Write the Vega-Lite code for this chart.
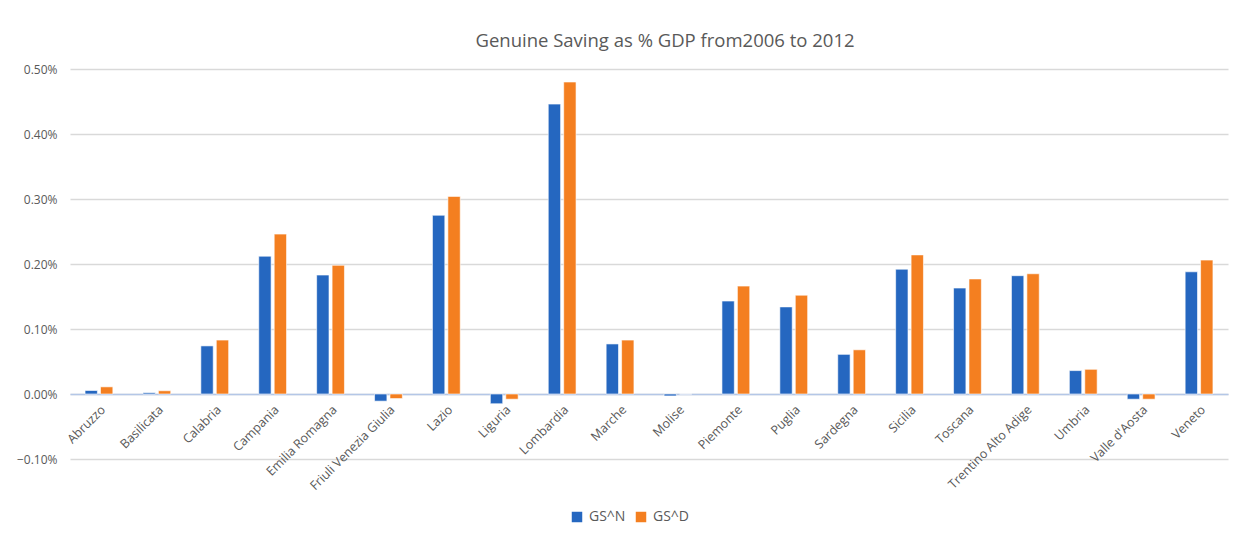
{
  "$schema": "https://vega.github.io/schema/vega-lite/v6.json",
  "autosize": {"type": "none"},
  "width": 1158,
  "height": 390,
  "padding": {"left": 70, "top": 69, "right": 5, "bottom": 78},
  "background": "white",
  "title": {
    "text": "Genuine Saving as % GDP from2006 to 2012",
    "fontSize": 18.5,
    "font": "Open Sans",
    "fontWeight": "normal",
    "color": "#595959",
    "anchor": "middle",
    "offset": 13,
    "dx": 16
  },
  "data": {
    "values": [
      {"region": "Abruzzo", "series": "GS^N", "value": 0.000054},
      {"region": "Abruzzo", "series": "GS^D", "value": 0.00011},
      {"region": "Basilicata", "series": "GS^N", "value": 0.00002},
      {"region": "Basilicata", "series": "GS^D", "value": 0.00005},
      {"region": "Calabria", "series": "GS^N", "value": 0.00074},
      {"region": "Calabria", "series": "GS^D", "value": 0.00083},
      {"region": "Campania", "series": "GS^N", "value": 0.00212},
      {"region": "Campania", "series": "GS^D", "value": 0.00246},
      {"region": "Emilia Romagna", "series": "GS^N", "value": 0.00183},
      {"region": "Emilia Romagna", "series": "GS^D", "value": 0.00198},
      {"region": "Friuli Venezia Giulia", "series": "GS^N", "value": -0.00011},
      {"region": "Friuli Venezia Giulia", "series": "GS^D", "value": -0.00007},
      {"region": "Lazio", "series": "GS^N", "value": 0.00275},
      {"region": "Lazio", "series": "GS^D", "value": 0.00304},
      {"region": "Liguria", "series": "GS^N", "value": -0.00015},
      {"region": "Liguria", "series": "GS^D", "value": -0.00008},
      {"region": "Lombardia", "series": "GS^N", "value": 0.00446},
      {"region": "Lombardia", "series": "GS^D", "value": 0.0048},
      {"region": "Marche", "series": "GS^N", "value": 0.00077},
      {"region": "Marche", "series": "GS^D", "value": 0.00083},
      {"region": "Molise", "series": "GS^N", "value": -0.00003},
      {"region": "Molise", "series": "GS^D", "value": 0},
      {"region": "Piemonte", "series": "GS^N", "value": 0.00143},
      {"region": "Piemonte", "series": "GS^D", "value": 0.00166},
      {"region": "Puglia", "series": "GS^N", "value": 0.00134},
      {"region": "Puglia", "series": "GS^D", "value": 0.00152},
      {"region": "Sardegna", "series": "GS^N", "value": 0.00061},
      {"region": "Sardegna", "series": "GS^D", "value": 0.00068},
      {"region": "Sicilia", "series": "GS^N", "value": 0.00192},
      {"region": "Sicilia", "series": "GS^D", "value": 0.00214},
      {"region": "Toscana", "series": "GS^N", "value": 0.00163},
      {"region": "Toscana", "series": "GS^D", "value": 0.00177},
      {"region": "Trentino Alto Adige", "series": "GS^N", "value": 0.00182},
      {"region": "Trentino Alto Adige", "series": "GS^D", "value": 0.00185},
      {"region": "Umbria", "series": "GS^N", "value": 0.00036},
      {"region": "Umbria", "series": "GS^D", "value": 0.00038},
      {"region": "Valle d'Aosta", "series": "GS^N", "value": -0.00008},
      {"region": "Valle d'Aosta", "series": "GS^D", "value": -0.00008},
      {"region": "Veneto", "series": "GS^N", "value": 0.00188},
      {"region": "Veneto", "series": "GS^D", "value": 0.00206}
    ]
  },
  "mark": {"type": "bar", "stroke": "white", "strokeWidth": 0.6},
  "encoding": {
    "x": {
      "field": "region",
      "type": "nominal",
      "sort": null,
      "scale": {"paddingInner": 0.52, "paddingOuter": 0.26},
      "axis": {
        "title": null,
        "offset": -65,
        "labelAngle": -45,
        "labelFont": "Open Sans",
        "labelFontSize": 12.5,
        "labelColor": "#595959",
        "labelPadding": 9,
        "ticks": false,
        "domainColor": "#b4c7e7",
        "domainWidth": 1.5,
        "grid": false
      }
    },
    "xOffset": {
      "field": "series",
      "type": "nominal",
      "sort": ["GS^N", "GS^D"],
      "scale": {"paddingInner": 0.2}
    },
    "y": {
      "field": "value",
      "type": "quantitative",
      "scale": {"domain": [-0.001, 0.005], "nice": false, "zero": true},
      "axis": {
        "title": null,
        "format": ".2%",
        "values": [-0.001, 0, 0.001, 0.002, 0.003, 0.004, 0.005],
        "domain": false,
        "ticks": false,
        "labelPadding": 13,
        "labelFont": "Open Sans",
        "labelFontSize": 12,
        "labelColor": "#595959",
        "gridColor": "#d9d9d9",
        "gridWidth": 1.3
      }
    },
    "color": {
      "field": "series",
      "type": "nominal",
      "sort": ["GS^N", "GS^D"],
      "scale": {"domain": ["GS^N", "GS^D"], "range": ["#2567C0", "#F47F20"]},
      "legend": {
        "title": null,
        "orient": "none",
        "direction": "horizontal",
        "legendX": 500,
        "legendY": 441,
        "symbolType": "square",
        "symbolSize": 110,
        "symbolStrokeWidth": 0,
        "labelFont": "Open Sans",
        "labelFontSize": 14,
        "labelColor": "#595959",
        "columnPadding": 8,
        "labelOffset": 5
      }
    }
  },
  "config": {
    "view": {"stroke": null}
  }
}
